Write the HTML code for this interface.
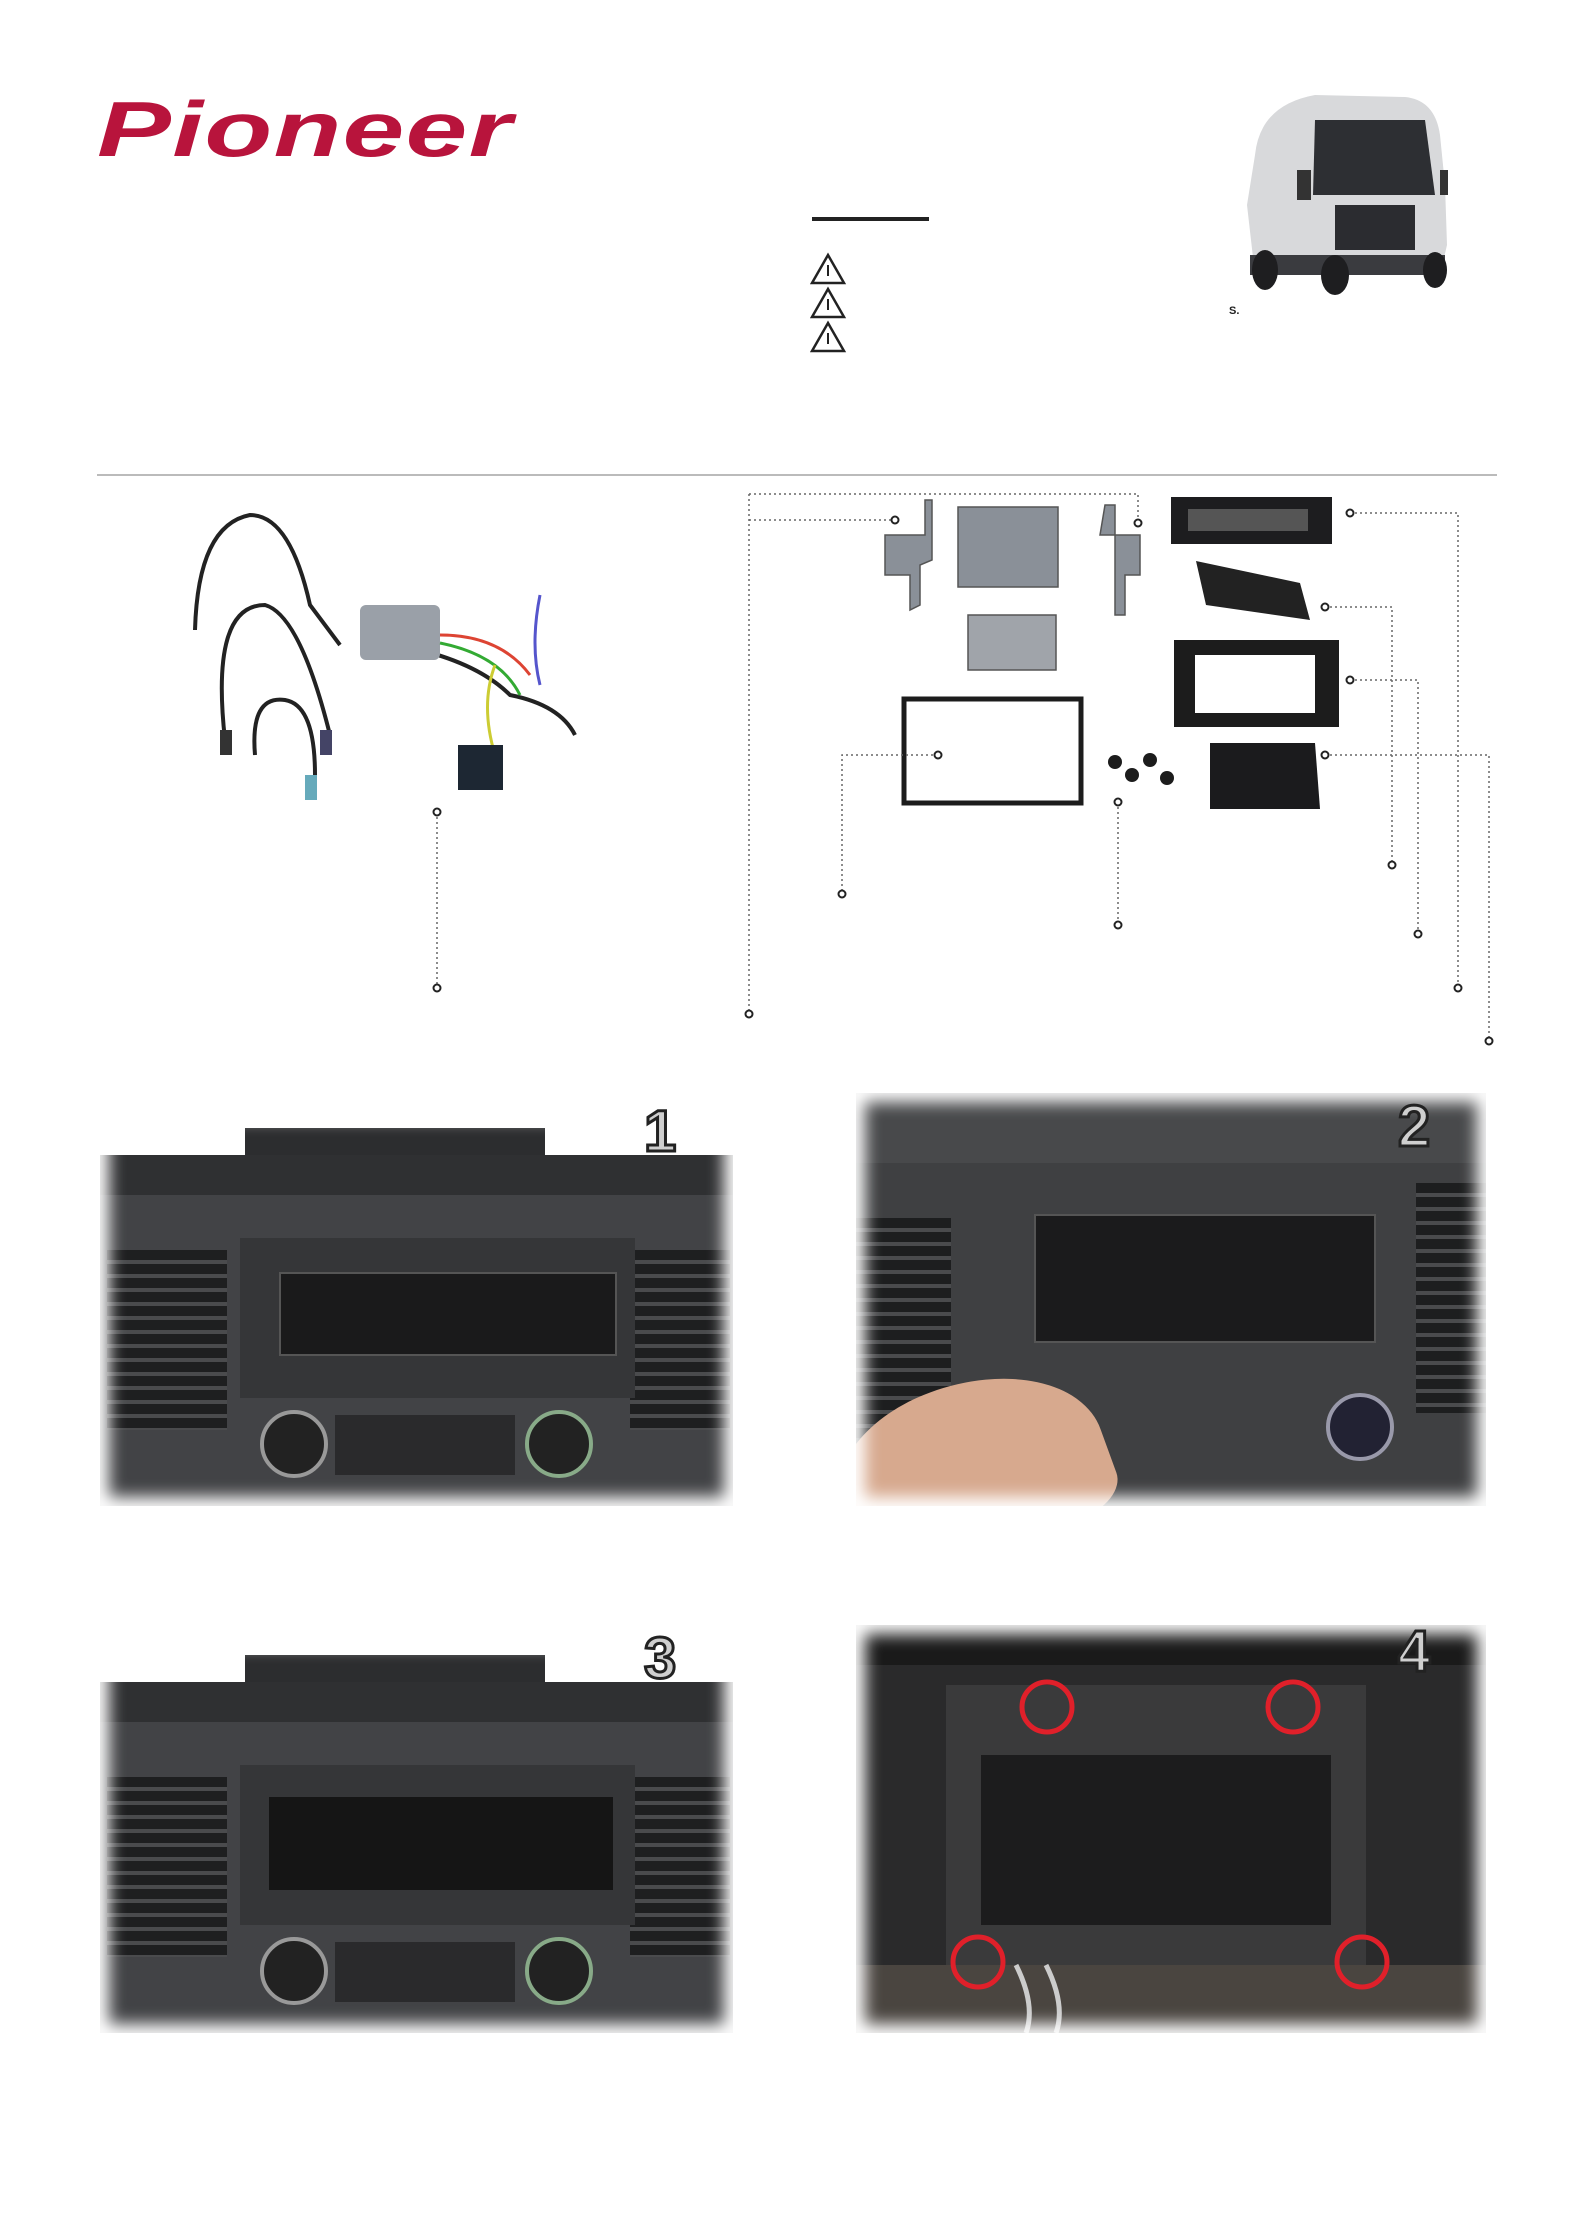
<!DOCTYPE html>
<html><head><meta charset="utf-8"><style>
html,body{margin:0;padding:0;background:#fff}
body{width:1575px;height:2228px;position:relative;overflow:hidden;font-family:"Liberation Sans",sans-serif}
.a{position:absolute}
.photo{position:absolute;background:#3b3c3e;overflow:hidden}
.photo:after{content:"";position:absolute;left:0;top:0;right:0;bottom:0;box-shadow:inset 0 0 16px 9px #fff}
.num{position:absolute;font:bold 58px "Liberation Sans",sans-serif;color:#cfcfcf;-webkit-text-stroke:3px #222}
</style></head><body>

<div class="a" style="left:97px;top:84px;font:italic bold 78px 'Liberation Sans',sans-serif;color:#b8143c;letter-spacing:1px;transform:scaleX(1.42);transform-origin:left">Pioneer</div>

<div class="a" style="left:812px;top:217px;width:117px;height:4px;background:#222"></div>
<svg class="a" style="left:810px;top:252px" width="40" height="104">
<g fill="none" stroke="#222" stroke-width="2.5"><polygon points="18,3 34,31 2,31"/><polygon points="18,37 34,65 2,65"/><polygon points="18,71 34,99 2,99"/></g>
<g stroke="#222" stroke-width="2"><line x1="18" y1="13" x2="18" y2="24"/><line x1="18" y1="47" x2="18" y2="58"/><line x1="18" y1="81" x2="18" y2="92"/></g></svg>

<!-- van -->
<svg class="a" style="left:1235px;top:85px" width="270" height="210">
<path d="M20 70 Q25 20 80 10 L170 12 Q200 15 205 50 L210 100 L212 160 L205 190 L20 190 L12 120 Z" fill="#d8d9db"/>
<path d="M80 35 L190 35 L200 110 L78 110 Z" fill="#2d2f33"/>
<rect x="100" y="120" width="80" height="45" fill="#2b2c30"/>
<rect x="15" y="170" width="195" height="20" fill="#3a3b3f"/>
<ellipse cx="30" cy="185" rx="13" ry="20" fill="#1e1e20"/><ellipse cx="100" cy="190" rx="14" ry="20" fill="#1e1e20"/><ellipse cx="200" cy="185" rx="12" ry="18" fill="#1e1e20"/>
<rect x="62" y="85" width="14" height="30" fill="#333"/><rect x="205" y="85" width="8" height="25" fill="#333"/>
</svg>
<div class="a" style="left:1229px;top:305px;font:bold 11px 'Liberation Sans';color:#222">S.</div>

<div class="a" style="left:97px;top:474px;width:1400px;height:2px;background:#bbb"></div>

<!-- harness -->
<svg class="a" style="left:180px;top:505px" width="490" height="320">
<g fill="none" stroke="#222" stroke-width="4">
<path d="M15 125 Q18 20 70 10 Q110 10 130 100 L160 140"/>
<path d="M45 235 Q30 100 85 100 Q120 110 150 230"/>
<path d="M75 250 Q70 190 105 195 Q135 200 135 270"/>
<path d="M240 145 Q300 160 330 190 Q380 200 395 230"/>
</g>
<rect x="180" y="100" width="80" height="55" rx="6" fill="#9aa0a8"/>
<g stroke-width="3" fill="none"><path d="M260 130 Q320 130 350 170" stroke="#d43"/><path d="M260 138 Q320 150 340 190" stroke="#3a3"/><path d="M315 160 Q300 200 315 250" stroke="#cc3"/><path d="M360 90 Q350 140 360 180" stroke="#55c"/></g>
<rect x="278" y="240" width="45" height="45" fill="#1d2733"/>
<rect x="40" y="225" width="12" height="25" fill="#333"/><rect x="140" y="225" width="12" height="25" fill="#446"/><rect x="125" y="270" width="12" height="25" fill="#6ab"/>
</svg>

<!-- parts -->
<svg class="a" style="left:870px;top:495px" width="480" height="330">
<g fill="#8a9098" stroke="#555" stroke-width="1.5">
<path d="M15 40 L55 40 L55 5 L62 5 L62 65 L50 70 L50 110 L40 115 L40 80 L15 80 Z"/>
<rect x="88" y="12" width="100" height="80"/>
<path d="M230 40 L270 40 L270 80 L255 80 L255 120 L245 120 L245 10 L235 10 Z"/>
<rect x="98" y="120" width="88" height="55" fill="#a0a4aa"/>
</g>
<rect x="301" y="2" width="161" height="47" fill="#1d1d1f"/><rect x="318" y="14" width="120" height="22" fill="#555"/>
<path d="M326 66 L430 88 L440 125 L336 110 Z" fill="#222"/>
<path d="M304 145 L469 145 L469 232 L304 232 Z" fill="#1c1c1c"/><rect x="325" y="160" width="120" height="58" fill="#fff"/>
<rect x="34" y="204" width="177" height="104" fill="none" stroke="#1c1c1c" stroke-width="5"/>
<g fill="#1c1c1c"><circle cx="245" cy="267" r="7"/><circle cx="262" cy="280" r="7"/><circle cx="280" cy="265" r="7"/><circle cx="297" cy="283" r="7"/></g>
<path d="M340 248 L445 248 L450 314 L340 314 Z" fill="#1b1b1d"/>
</svg>

<!-- dotted connectors -->
<svg class="a" style="left:0;top:0" width="1575" height="1100">
<g fill="none" stroke="#666" stroke-width="1.5" stroke-dasharray="2 3">
<path d="M437 812 V988"/>
<path d="M749 494 H1138 V523 M749 520 H895 M749 494 V1014"/>
<path d="M1350 513 H1458 V988"/>
<path d="M1325 607 H1392 V865"/>
<path d="M1350 680 H1418 V934"/>
<path d="M1325 755 H1489 V1041"/>
<path d="M938 755 H842 V894"/>
<path d="M1118 802 V925"/>
</g>
<g fill="#fff" stroke="#222" stroke-width="2">
<circle cx="437" cy="812" r="3.5"/><circle cx="437" cy="988" r="3.5"/>
<circle cx="1138" cy="523" r="3.5"/><circle cx="895" cy="520" r="3.5"/><circle cx="749" cy="1014" r="3.5"/>
<circle cx="1350" cy="513" r="3.5"/><circle cx="1458" cy="988" r="3.5"/>
<circle cx="1325" cy="607" r="3.5"/><circle cx="1392" cy="865" r="3.5"/>
<circle cx="1350" cy="680" r="3.5"/><circle cx="1418" cy="934" r="3.5"/>
<circle cx="1325" cy="755" r="3.5"/><circle cx="1489" cy="1041" r="3.5"/>
<circle cx="938" cy="755" r="3.5"/><circle cx="842" cy="894" r="3.5"/>
<circle cx="1118" cy="802" r="3.5"/><circle cx="1118" cy="925" r="3.5"/>
</g></svg>

<!-- photo 1 -->
<div class="photo" style="left:100px;top:1110px;width:633px;height:396px;background:#424346">
<div class="a" style="left:0;top:0;width:633px;height:45px;background:#fff"></div>
<div class="a" style="left:145px;top:18px;width:300px;height:30px;background:#2c2d2f"></div>
<div class="a" style="left:0;top:45px;width:633px;height:40px;background:#2f3032"></div>
<div class="a" style="left:7px;top:140px;width:120px;height:180px;background:repeating-linear-gradient(#1e1f20 0 10px,#4a4b4d 10px 14px)"></div>
<div class="a" style="left:530px;top:140px;width:100px;height:180px;background:repeating-linear-gradient(#1e1f20 0 10px,#4a4b4d 10px 14px)"></div>
<div class="a" style="left:140px;top:128px;width:395px;height:160px;background:#353638"></div>
<div class="a" style="left:179px;top:162px;width:334px;height:80px;background:#1a1a1b;border:2px solid #555"></div>
<div class="a" style="left:160px;top:300px;width:60px;height:60px;border-radius:50%;background:#222;border:4px solid #999"></div>
<div class="a" style="left:425px;top:300px;width:60px;height:60px;border-radius:50%;background:#222;border:4px solid #8a8"></div>
<div class="a" style="left:235px;top:305px;width:180px;height:60px;background:#2a2a2c"></div>
</div>
<div class="num" style="left:644px;top:1098px">1</div>

<!-- photo 2 -->
<div class="photo" style="left:856px;top:1093px;width:630px;height:413px;background:#3f4042">
<div class="a" style="left:0;top:0;width:630px;height:70px;background:#48494b"></div>
<div class="a" style="left:0;top:125px;width:95px;height:220px;background:repeating-linear-gradient(#1d1e1f 0 10px,#4a4b4d 10px 14px)"></div>
<div class="a" style="left:560px;top:90px;width:70px;height:230px;background:repeating-linear-gradient(#1d1e1f 0 10px,#4a4b4d 10px 14px)"></div>
<div class="a" style="left:178px;top:121px;width:338px;height:125px;background:#1b1b1c;border:2px solid #555"></div>
<div class="a" style="left:470px;top:300px;width:60px;height:60px;border-radius:50%;background:#223;border:4px solid #99a"></div>
<div class="a" style="left:-20px;top:290px;width:270px;height:170px;border-radius:50% 60% 20% 40%;background:#d7a98e;transform:rotate(-20deg)"></div>
</div>
<div class="num" style="left:1398px;top:1093px">2</div>

<!-- photo 3 -->
<div class="photo" style="left:100px;top:1637px;width:633px;height:396px;background:#424346">
<div class="a" style="left:0;top:0;width:633px;height:45px;background:#fff"></div>
<div class="a" style="left:145px;top:18px;width:300px;height:30px;background:#2c2d2f"></div>
<div class="a" style="left:0;top:45px;width:633px;height:40px;background:#2f3032"></div>
<div class="a" style="left:7px;top:140px;width:120px;height:180px;background:repeating-linear-gradient(#1e1f20 0 10px,#4a4b4d 10px 14px)"></div>
<div class="a" style="left:530px;top:140px;width:100px;height:180px;background:repeating-linear-gradient(#1e1f20 0 10px,#4a4b4d 10px 14px)"></div>
<div class="a" style="left:140px;top:128px;width:395px;height:160px;background:#353638"></div>
<div class="a" style="left:169px;top:160px;width:344px;height:93px;background:#151515"></div>
<div class="a" style="left:160px;top:300px;width:60px;height:60px;border-radius:50%;background:#222;border:4px solid #999"></div>
<div class="a" style="left:425px;top:300px;width:60px;height:60px;border-radius:50%;background:#222;border:4px solid #8a8"></div>
<div class="a" style="left:235px;top:305px;width:180px;height:60px;background:#2a2a2c"></div>
</div>
<div class="num" style="left:644px;top:1625px">3</div>

<!-- photo 4 -->
<div class="photo" style="left:856px;top:1625px;width:630px;height:408px;background:#2a2a2b">
<div class="a" style="left:0;top:0;width:630px;height:40px;background:#1a1a1a"></div>
<div class="a" style="left:90px;top:60px;width:420px;height:280px;background:#3a3a3b"></div>
<div class="a" style="left:125px;top:130px;width:350px;height:170px;background:#1c1c1d"></div>
<div class="a" style="left:0;top:340px;width:630px;height:68px;background:#4a4540"></div>
<svg class="a" style="left:0;top:0" width="630" height="408"><g fill="none" stroke="#e0202a" stroke-width="5">
<circle cx="191" cy="82" r="25"/><circle cx="437" cy="82" r="25"/><circle cx="122" cy="337" r="25"/><circle cx="506" cy="337" r="25"/></g>
<path d="M160 340 Q180 380 170 408 M190 340 Q210 380 200 408" stroke="#ccc" stroke-width="5" fill="none"/></svg>
</div>
<div class="num" style="left:1398px;top:1618px">4</div>

</body></html>
